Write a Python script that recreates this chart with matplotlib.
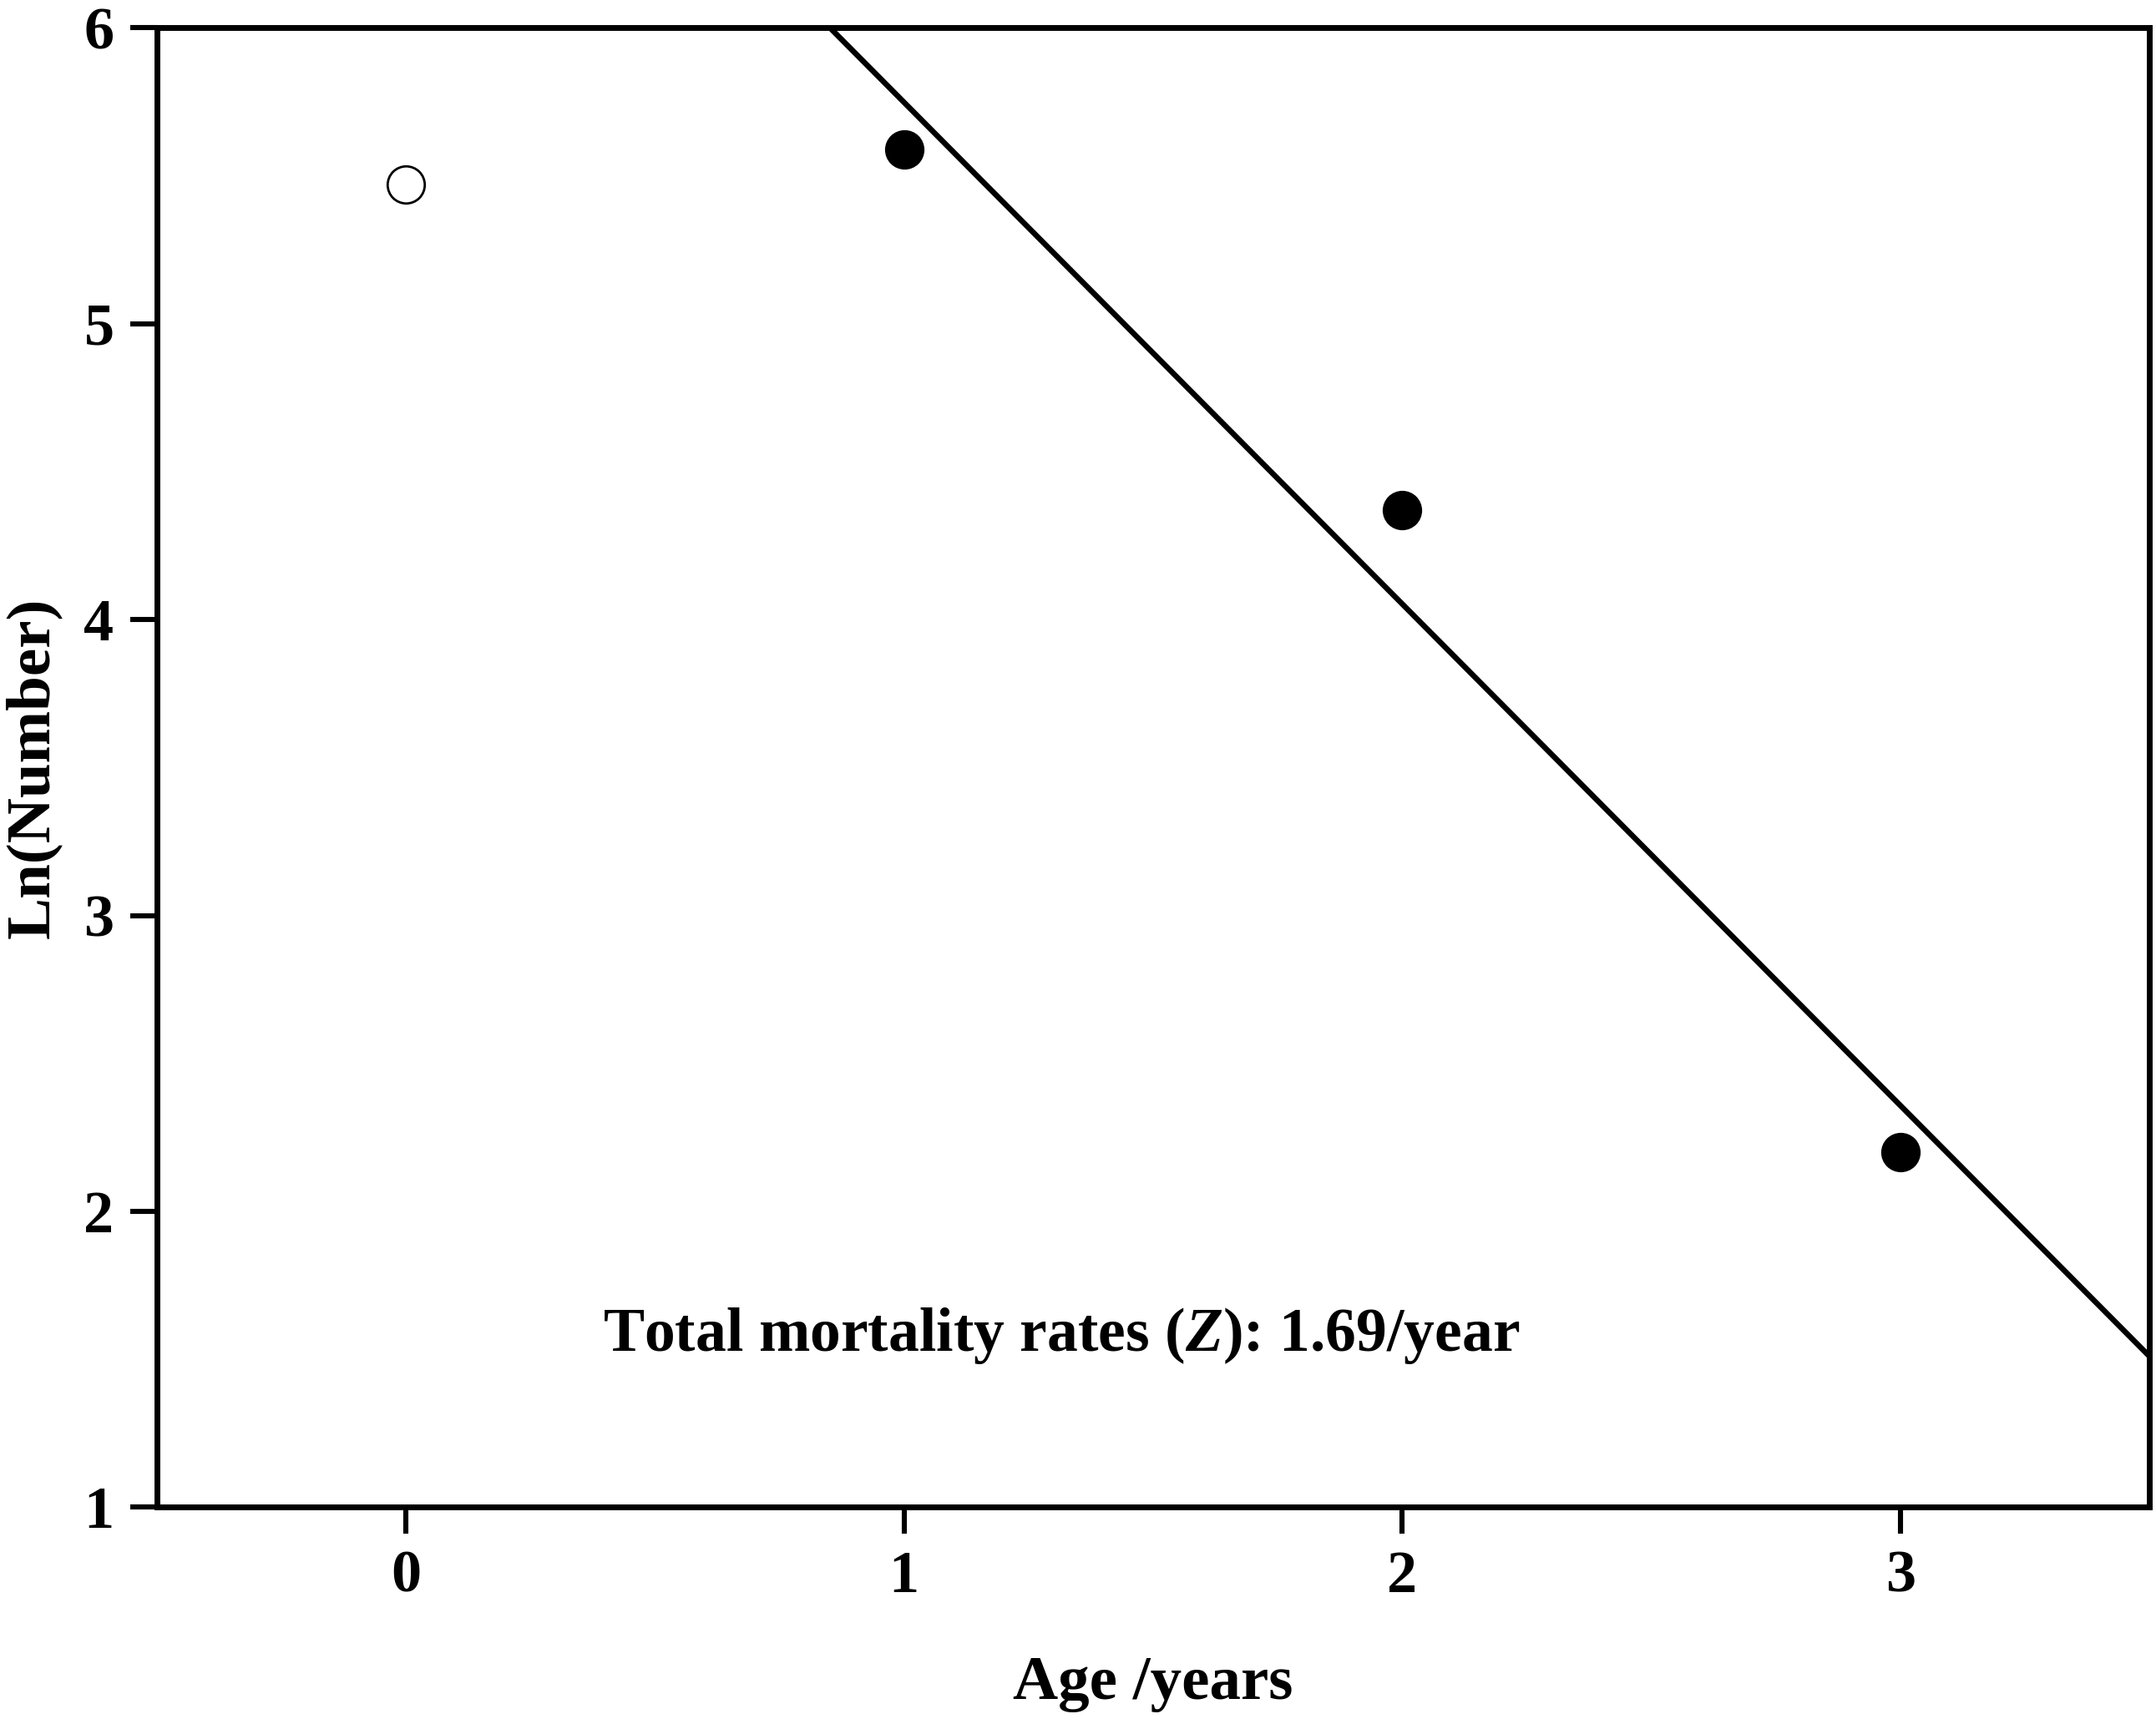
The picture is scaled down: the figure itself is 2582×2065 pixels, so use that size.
import numpy as np
import matplotlib
matplotlib.use("Agg")
import matplotlib.pyplot as plt

# values
age_open = [0]
ln_open = [5.47]
age_fit = [1, 2, 3]
ln_fit = [5.59, 4.37, 2.20]
z_label = "1.69"

plt.rcParams['font.family'] = ['Liberation Serif', 'DejaVu Serif']
plt.rcParams['font.weight'] = 'bold'
plt.rcParams['mathtext.fontset'] = 'custom'
plt.rcParams['mathtext.rm'] = 'Liberation Serif:bold'
plt.rcParams['mathtext.bfit'] = 'Liberation Serif:italic:bold'
plt.rcParams['mathtext.it'] = 'Liberation Serif:italic:bold'

fig = plt.figure(figsize=(12.91, 10.325), dpi=200)
ax = fig.add_axes([0.0728, 0.1257, 0.9241, 0.8581])

# regression line through the filled points
slope, intercept = np.polyfit(age_fit, ln_fit, 1)
xs = np.array([-0.5, 3.5])
ax.plot(xs, intercept + slope * xs, color='black', lw=2.4)

ax.plot(age_fit, ln_fit, 'o', color='black', ms=16, zorder=3)
ax.plot(age_open, ln_open, 'o', mfc='white', mec='black', mew=1.0, ms=16, zorder=3)

ax.text(1.316, 1.58, r'Total mortality rates ($\mathit{Z}$): ' + z_label + '/year',
        ha='center', va='center', fontsize=26.5, fontweight='bold')

ax.set_xlim(-0.5, 3.5)
ax.set_ylim(1, 6)
ax.set_xticks([0, 1, 2, 3])
ax.set_yticks([1, 2, 3, 4, 5, 6])
ax.tick_params(direction='out', length=11.5, width=2.2, labelsize=26, pad=7)
for lab in ax.get_xticklabels() + ax.get_yticklabels():
    lab.set_fontweight('bold')
for sp in ax.spines.values():
    sp.set_linewidth(2.5)

ax.set_xlabel('Age /years', fontsize=27, fontweight='bold', labelpad=22)
ax.set_ylabel('Ln(Number)', fontsize=27, fontweight='bold')
ax.yaxis.set_label_coords(-0.048, 0.5)

fig.savefig('out.png', dpi=200)
